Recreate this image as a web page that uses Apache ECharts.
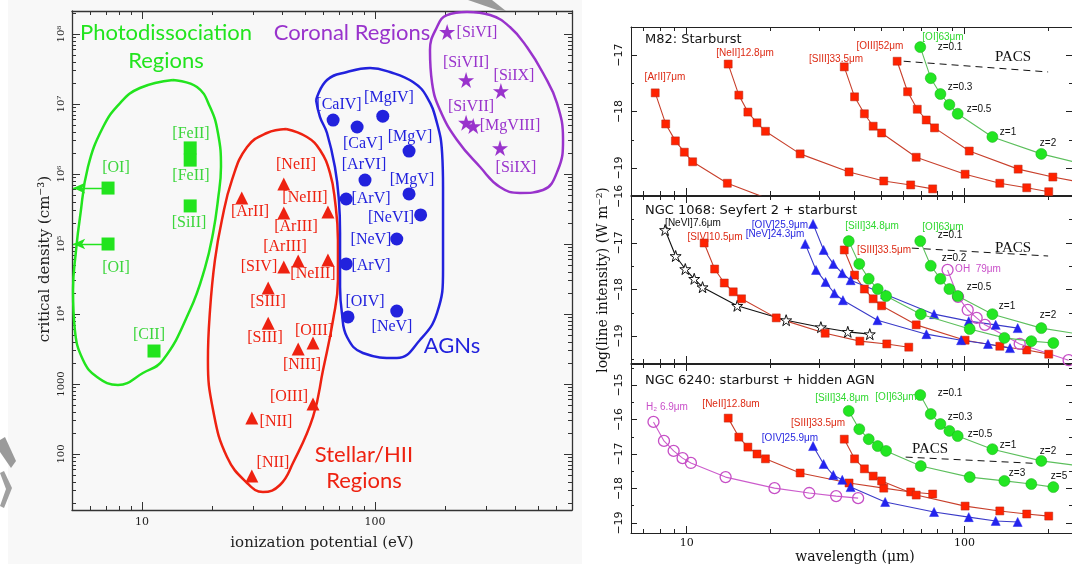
<!DOCTYPE html>
<html>
<head>
<meta charset="utf-8">
<script src="https://cdn.jsdelivr.net/npm/echarts@6/dist/echarts.min.js"></script>
<style>
  html, body { margin: 0; background: #fff; }
  #chart { width: 1072px; height: 564px; }
</style>
</head>
<body>
<div id="chart"></div>
<script>
// ---------- left panel: critical density vs ionization potential ----------
const pdrNames = ['[OI]', '[OI]', '[FeII]', '[FeII]', '[SiII]', '[CII]'];
const pdrIP = [7.15, 7.15, 16.1, 16.1, 16.1, 11.26];
const pdrNcrit = [6.3e5, 1.0e5, 2.36e6, 1.58e6, 3.5e5, 2.96e3];
const pdrUpperLimits = [0, 1];   // points drawn with a leftward arrow

const hiiNames = ['[ArII]', '[NeII]', '[ArIII]', '[NeIII]', '[SIV]', '[ArIII]', '[NeIII]',
  '[SIII]', '[SIII]', '[OIII]', '[NIII]', '[OIII]', '[NII]', '[NII]'];
const hiiIP = [26.8, 40.6, 40.6, 62.8, 40.6, 46.8, 62.8, 34.8, 34.8, 54.2, 46.8, 54.2, 29.6, 29.6];
const hiiNcrit = [4.54e5, 7.2e5, 2.77e5, 2.86e5, 4.7e4, 5.7e4, 5.9e4, 2.35e4, 7.4e3, 3.85e3, 3.16e3, 518, 327, 48.5];

const agnNames = ['[CaIV]', '[CaV]', '[MgIV]', '[MgV]', '[ArVI]', '[MgV]', '[ArV]', '[NeVI]',
  '[NeV]', '[ArV]', '[OIV]', '[NeV]'];
const agnIP = [66.1, 83.8, 108, 140, 90.6, 140, 75.2, 157, 124, 75.2, 76.6, 124];
const agnNcrit = [5.9e6, 4.7e6, 6.7e6, 2.13e6, 8.2e5, 5.2e5, 4.4e5, 2.6e5, 1.18e5, 5.2e4, 9.1e3, 1.1e4];

const corNames = ['[SiVI]', '[SiVII]', '[SiIX]', '[SiVII]', '[MgVIII]', '[SiIX]'];
const corIP = [204, 246, 347, 246, 264, 344];
const corNcrit = [1.07e8, 2.2e7, 1.53e7, 5.4e6, 4.85e6, 2.35e6];

// region outlines, in decades: [log10(eV), log10(cm^-3)]
const pdrLoopLog = [[1.133, 7.343], [1.236, 7.243], [1.292, 6.957], [1.326, 6.586], [1.339, 6.100],
  [1.326, 5.629], [1.305, 5.157], [1.270, 4.657], [1.206, 4.057], [1.090, 3.343], [1.004, 3.157],
  [0.897, 2.986], [0.807, 3.100], [0.747, 3.343], [0.712, 3.771], [0.704, 4.343], [0.717, 4.914],
  [0.734, 5.386], [0.768, 6.100], [0.833, 6.671], [0.906, 7.014], [0.991, 7.229], [1.133, 7.343]];
const hiiLoopLog = [[1.618, 6.643], [1.708, 6.529], [1.764, 6.343], [1.807, 6.014], [1.828, 5.629],
  [1.841, 5.057], [1.841, 4.486], [1.820, 3.914], [1.777, 3.200], [1.734, 2.529], [1.648, 1.871],
  [1.592, 1.557], [1.519, 1.457], [1.451, 1.586], [1.365, 1.957], [1.305, 2.629], [1.283, 3.343],
  [1.292, 4.057], [1.313, 4.771], [1.343, 5.343], [1.386, 5.914], [1.451, 6.386], [1.536, 6.586],
  [1.618, 6.643]];
const agnLoopLog = [[1.747, 7.057], [1.794, 7.343], [1.880, 7.457], [1.979, 7.514], [2.064, 7.457],
  [2.163, 7.314], [2.223, 7.100], [2.266, 6.729], [2.288, 6.300], [2.292, 5.814], [2.292, 5.157],
  [2.292, 4.629], [2.266, 4.014], [2.193, 3.629], [2.094, 3.371], [1.948, 3.443], [1.880, 3.671],
  [1.858, 4.014], [1.850, 4.386], [1.850, 5.157], [1.845, 5.629], [1.828, 6.100], [1.794, 6.586],
  [1.764, 6.814], [1.747, 7.057]];
const corLoopLog = [[2.395, 8.314], [2.309, 8.271], [2.266, 8.100], [2.236, 7.771], [2.245, 7.300],
  [2.279, 6.914], [2.352, 6.486], [2.451, 6.100], [2.536, 5.814], [2.622, 5.729], [2.721, 5.771],
  [2.785, 6.057], [2.807, 6.486], [2.781, 7.014], [2.721, 7.443], [2.652, 7.814], [2.579, 8.100],
  [2.494, 8.271], [2.395, 8.314]];

// ---------- right panels: line intensity vs observed wavelength ----------
const lamArII = [7.7, 8.4, 9.1, 9.8, 10.5, 14, 21];
const lamNeII = [14.1, 15.4, 16.6, 17.9, 19.2, 25.6, 38.4, 51.2, 64, 76.8];
const lamSIII = [36.9, 40.2, 43.6, 46.9, 50.3, 67, 100.5, 134, 167.5, 201];
const lamOIII = [57.2, 62.4, 67.6, 72.8, 78, 104, 156, 208, 260];
const lamOI = [69.3, 75.6, 81.9, 88.2, 94.5, 126, 189, 252];
const lamNeVI = [8.36, 9.12, 9.88, 10.64, 11.4, 15.2, 22.8, 30.4, 38, 45.6];
const lamSIV = [11.55, 12.6, 13.65, 14.7, 15.75, 21, 31.5, 42, 52.5, 63];
const lamOIV = [28.5, 31.1, 33.7, 36.3, 38.9, 51.8, 77.7, 103.6, 129.5, 155.4];
const lamNeV = [26.7, 29.2, 31.6, 34, 36.5, 48.6, 72.9, 97.2, 121.5, 145.8];
const lamSiII = [38.3, 41.8, 45.2, 48.7, 52.2, 69.6, 104.4, 139.2, 174, 208.8];
const lamOH = [86.9, 94.8, 102.7, 110.6, 118.5, 158, 237];
const lamH2 = [7.59, 8.28, 8.97, 9.66, 10.35, 13.8, 20.7, 27.6, 34.5, 41.4];

const m82ArII = [-17.67, -18.22, -18.52, -18.72, -18.89, -19.27, -19.6];
const m82NeII = [-17.16, -17.71, -18.01, -18.20, -18.35, -18.75, -19.07, -19.23, -19.30, -19.37];
const m82SIII = [-17.21, -17.74, -18.04, -18.26, -18.38, -18.81, -19.11, -19.27, -19.35, -19.42];
const m82OIII = [-17.11, -17.65, -17.96, -18.15, -18.29, -18.70, -19.02, -19.16, -19.25];
const m82OI = [-16.86, -17.41, -17.69, -17.88, -18.04, -18.45, -18.75, -18.90];
const m82PacsLam = [60.4, 200];
const m82Pacs = [-17.11, -17.30];

const n1068NeVI = [-16.72, -17.28, -17.56, -17.77, -17.95, -18.35, -18.66, -18.81, -18.91, -18.96];
const n1068SIV = [-17.00, -17.56, -17.86, -18.05, -18.20, -18.61, -18.94, -19.11, -19.17, -19.24];
const n1068OIV = [-16.59, -17.15, -17.45, -17.65, -17.80, -18.10, -18.53, -18.68, -18.76, -18.83];
const n1068NeV = [-17.02, -17.58, -17.84, -18.08, -18.23, -18.66, -18.96, -19.09, -19.17, -19.26];
const n1068SiII = [-16.96, -17.45, -17.77, -17.99, -18.14, -18.53, -18.85, -19.04, -19.11, -19.15];
const n1068SIII = [-17.15, -17.69, -17.99, -18.20, -18.35, -18.76, -19.09, -19.22, -19.30, -19.39];
const n1068OI = [-16.96, -17.49, -17.77, -17.99, -18.14, -18.53, -18.83, -18.95];
const n1068OH = [-17.58, -18.16, -18.44, -18.61, -18.76, -19.17, -19.52];
const n1068PacsLam = [64.6, 200];
const n1068Pacs = [-17.11, -17.28];

const n6240H2 = [-16.07, -16.62, -16.91, -17.12, -17.26, -17.67, -17.99, -18.13, -18.22, -18.28];
const n6240NeII = [-15.96, -16.51, -16.80, -17.00, -17.14, -17.55, -17.84, -17.99, -18.10, -18.16];
const n6240SIII = [-16.57, -17.14, -17.43, -17.64, -17.78, -18.19, -18.51, -18.65, -18.74, -18.80];
const n6240OIV = [-16.77, -17.29, -17.61, -17.75, -17.96, -18.39, -18.68, -18.83, -18.94, -18.97];
const n6240SiII = [-15.75, -16.28, -16.57, -16.77, -16.91, -17.35, -17.67, -17.78, -17.87, -17.96];
const n6240OI = [-15.29, -15.84, -16.13, -16.33, -16.48, -16.86, -17.20, -17.33];
const n6240PacsLam = [61.4, 200];
const n6240Pacs = [-17.09, -17.29];

// ---------- helpers ----------
const LN = Math.log10;
const SUP = {4: '⁴', 5: '⁵', 6: '⁶', 7: '⁷', 8: '⁸'};
const STAR = 'path://M0,-10L2.245,-3.09L9.51,-3.09L3.633,1.18L5.88,8.09L0,3.82L-5.88,8.09L-3.633,1.18L-9.51,-3.09L-2.245,-3.09Z';

const GREEN = '#22e41e', RED = '#ee2211', BLUE = '#2222dd', PURPLE = '#9933cc';
const GREEN_TXT = '#3cd63c';

function minorLog(lo, hi) {
  const out = [];
  for (let n = Math.floor(lo); n <= Math.ceil(hi); n++) {
    for (let k = 2; k <= 9; k++) {
      const v = n + LN(k);
      if (v > lo && v < hi) out.push(v);
    }
  }
  return out;
}
function steps(lo, hi, step, offset) {
  const out = [];
  for (let v = Math.ceil((lo - offset) / step) * step + offset; v <= hi + 1e-9; v += step) out.push(+v.toFixed(4));
  return out;
}

const grids = [], xAxes = [], yAxes = [];
// four axes per direction: main, main-minor, mirror, mirror-minor
function axes(kind, gi, c) {
  const sides = kind === 'x' ? ['bottom', 'top'] : ['left', 'right'];
  const list = [];
  sides.forEach((side, s) => {
    [c.major, c.minor].forEach((vals, m) => {
      list.push({
        type: 'value', gridIndex: gi, position: side, min: c.min, max: c.max,
        axisLine: {show: m === 0, onZero: false, lineStyle: {color: c.lineColor || '#222', width: c.lineWidth || 1}},
        splitLine: {show: false},
        axisTick: {show: true, inside: true, length: m === 0 ? c.majLen : c.minLen,
          customValues: vals, lineStyle: {color: c.lineColor || '#222', width: 1}},
        axisLabel: (s === 0 && m === 0 && c.label)
          ? Object.assign({customValues: c.labelValues || c.major}, c.label)
          : {show: false}
      });
    });
  });
  return list;
}
function addGrid(g, xc, yc) {
  const gi = grids.length;
  grids.push(g);
  const xi = xAxes.length; xAxes.push(...axes('x', gi, xc));
  const yi = yAxes.length; yAxes.push(...axes('y', gi, yc));
  return {xi, yi};
}

// left panel grid
const LX = [0.6996, 2.8455], LY = [1.2, 8.329];
const left = addGrid({left: 72, top: 11, width: 500, height: 499},
  {min: LX[0], max: LX[1], major: [1, 2], minor: minorLog(LX[0], LX[1]), majLen: 8, minLen: 4,
   lineColor: '#333', lineWidth: 1.3,
   label: {margin: 7, color: '#222', fontSize: 11, fontFamily: 'DejaVu Serif',
     formatter: v => String(Math.round(Math.pow(10, v)))}},
  {min: LY[0], max: LY[1], major: steps(LY[0], LY[1], 1, 0), minor: minorLog(LY[0], LY[1]), majLen: 8, minLen: 4,
   lineColor: '#333', lineWidth: 1.3, labelValues: [2, 3, 4, 5, 6, 7, 8],
   label: {margin: 6, color: '#222', fontSize: 10, fontFamily: 'DejaVu Serif', rotate: 90,
     formatter: v => { const p = Math.round(v); return p === 2 ? '100' : p === 3 ? '1000' : '10' + SUP[p]; }}});

// right panels
const RX = [0.7993, 2.387];
function rightPanel(top, height, ymin, ymax, showX) {
  return addGrid({left: 631, top, width: 443, height},
    {min: RX[0], max: RX[1], major: [1, 2], minor: minorLog(RX[0], RX[1]), majLen: 7, minLen: 4,
     label: showX ? {margin: 5, color: '#111', fontSize: 11, fontFamily: 'DejaVu Serif',
       formatter: v => String(Math.round(Math.pow(10, v)))} : null},
    {min: ymin, max: ymax, major: steps(ymin, ymax, 1, 0), minor: steps(ymin, ymax, 1, 0.5), majLen: 6, minLen: 3,
     label: {margin: 6, color: '#111', fontSize: 11, fontFamily: 'DejaVu Sans', rotate: 90,
       formatter: v => '\u2212' + Math.abs(Math.round(v))}});
}
const p1 = rightPanel(27, 168, -19.478, -16.504, false);
const p2 = rightPanel(196, 167, -19.58, -15.99, false);
const p3 = rightPanel(364, 169, -19.29, -14.391, true);

// ---------- series ----------
const series = [];
function loop(data, color) {
  series.push({type: 'line', xAxisIndex: left.xi, yAxisIndex: left.yi, data, smooth: 0.45,
    showSymbol: false, symbol: 'none', silent: true, z: 1,
    lineStyle: {color, width: 2.5}});
}
loop(pdrLoopLog, GREEN);
loop(hiiLoopLog, RED);
loop(agnLoopLog, BLUE);
loop(corLoopLog, PURPLE);

function scatter(ip, nc, symbol, size, color, extra) {
  series.push(Object.assign({type: 'scatter', xAxisIndex: left.xi, yAxisIndex: left.yi,
    data: ip.map((v, i) => [LN(v), LN(nc[i])]), symbol, symbolSize: size, z: 5,
    itemStyle: {color, opacity: 1}}, extra || {}));
}
scatter(pdrIP, pdrNcrit, 'rect', 13, GREEN, {
  markLine: {silent: true, symbol: ['none', 'arrow'], symbolSize: [8, 12], animation: false,
    label: {show: false}, lineStyle: {color: GREEN, width: 1.3, type: 'solid'},
    data: pdrUpperLimits.map(i => [{coord: [LN(pdrIP[i]), LN(pdrNcrit[i])]}, {coord: [LX[0] + 0.005, LN(pdrNcrit[i])]}])}
});
scatter(hiiIP, hiiNcrit, 'triangle', 13, RED);
scatter(agnIP, agnNcrit, 'circle', 13, BLUE);
scatter(corIP, corNcrit, STAR, 16, PURPLE);

const ST = {
  red: {symbol: 'rect', size: 8, fill: '#ff2200', border: '#b02a18', bw: 0.5, line: '#c8402c'},
  green: {symbol: 'circle', size: 11, fill: '#22e622', border: '#18a818', bw: 0.5, line: '#5cbf5c'},
  blue: {symbol: 'triangle', size: 9, fill: '#2424ee', border: '#2424ee', bw: 0.5, line: '#3a3ac8'},
  magenta: {symbol: 'circle', size: 11, fill: 'rgba(255,255,255,0)', border: '#c64fc6', bw: 1.3, line: '#cc5ccc'},
  black: {symbol: STAR, size: 11, fill: '#fff', border: '#111', bw: 1, line: '#111'}
};
function curve(p, lam, vals, st) {
  const s = ST[st];
  series.push({type: 'line', xAxisIndex: p.xi, yAxisIndex: p.yi, clip: true, z: st === 'green' ? 4 : 3,
    data: lam.slice(0, vals.length).map((l, i) => [LN(l), vals[i]]),
    symbol: s.symbol, symbolSize: s.size, showAllSymbol: true,
    itemStyle: {color: s.fill, borderColor: s.border, borderWidth: s.bw},
    lineStyle: {color: s.line, width: 1.1}});
}
function pacs(p, lam, vals) {
  series.push({type: 'line', xAxisIndex: p.xi, yAxisIndex: p.yi, symbol: 'none', silent: true, z: 2,
    data: lam.map((l, i) => [LN(l), vals[i]]), lineStyle: {color: '#111', width: 1, type: [7, 5]}});
}
curve(p1, lamArII, m82ArII, 'red');
curve(p1, lamNeII, m82NeII, 'red');
curve(p1, lamSIII, m82SIII, 'red');
curve(p1, lamOIII, m82OIII, 'red');
curve(p1, lamOI, m82OI, 'green');
pacs(p1, m82PacsLam, m82Pacs);

curve(p2, lamNeVI, n1068NeVI, 'black');
curve(p2, lamSIV, n1068SIV, 'red');
curve(p2, lamSIII, n1068SIII, 'red');
curve(p2, lamOIV, n1068OIV, 'blue');
curve(p2, lamNeV, n1068NeV, 'blue');
curve(p2, lamSiII, n1068SiII, 'green');
curve(p2, lamOI, n1068OI, 'green');
curve(p2, lamOH, n1068OH, 'magenta');
pacs(p2, n1068PacsLam, n1068Pacs);

curve(p3, lamH2, n6240H2, 'magenta');
curve(p3, lamNeII, n6240NeII, 'red');
curve(p3, lamSIII, n6240SIII, 'red');
curve(p3, lamOIV, n6240OIV, 'blue');
curve(p3, lamSiII, n6240SiII, 'green');
curve(p3, lamOI, n6240OI, 'green');
pacs(p3, n6240PacsLam, n6240Pacs);

// ---------- texts ----------
const SERIF16 = '16px "Liberation Serif"';
const SANS10 = '10px "Liberation Sans"';
function tx(text, x, y, fill, font, extra) {
  const el = {type: 'text', x, y, z: 60, silent: true,
    style: {text, fill, font, textAlign: 'center', textVerticalAlign: 'middle'}};
  if (extra && extra.rotation) el.rotation = extra.rotation;
  if (extra && extra.align) el.style.textAlign = extra.align;
  return el;
}
const g = [];
// backdrop and scan artefacts
g.push({type: 'rect', z: -10, silent: true, shape: {x: 8, y: 0, width: 574, height: 564}, style: {fill: '#f8f8f8'}});
g.push({type: 'polygon', z: 70, silent: true, shape: {points: [[0, 440], [5, 437], [16, 461], [11, 468], [0, 452]]}, style: {fill: '#9a9a9a'}});
g.push({type: 'polygon', z: 70, silent: true, shape: {points: [[0, 473], [4, 471], [12, 488], [4, 508], [0, 506], [6, 489]]}, style: {fill: '#a0a0a0'}});
g.push({type: 'polygon', z: 70, silent: true, shape: {points: [[468, 0], [492, 0], [506, 11], [497, 10]]}, style: {fill: '#9a9a9a'}});

// left panel region names
const LATO = '22px Lato';
g.push(tx('Photodissociation', 166, 33, GREEN, LATO), tx('Regions', 166, 61, GREEN, LATO));
g.push(tx('Coronal Regions', 352, 33, PURPLE, LATO));
g.push(tx('AGNs', 452, 346, BLUE, LATO));
g.push(tx('Stellar/HII', 364, 455, RED, LATO), tx('Regions', 364, 481, RED, LATO));

// point labels [text, x, y]
const pdrLab = [['[OI]', 116, 168], ['[OI]', 116, 268], ['[FeII]', 191, 134], ['[FeII]', 191, 176],
  ['[SiII]', 189, 223], ['[CII]', 149, 335]];
const hiiLab = [['[NeII]', 296, 165], ['[ArII]', 250, 212], ['[NeIII]', 305, 198], ['[ArIII]', 296, 227],
  ['[ArIII]', 285, 247], ['[SIV]', 259, 267], ['[NeIII]', 313, 274], ['[SIII]', 268, 302],
  ['[SIII]', 265, 338], ['[OIII]', 314, 331], ['[NIII]', 302, 365], ['[OIII]', 289, 397],
  ['[NII]', 276, 422], ['[NII]', 273, 463]];
const agnLab = [['[CaIV]', 339, 105], ['[MgIV]', 389, 98], ['[CaV]', 363, 144], ['[MgV]', 410, 137],
  ['[ArVI]', 364, 165], ['[MgV]', 412, 180], ['[ArV]', 371, 199], ['[NeVI]', 391, 218],
  ['[NeV]', 371, 240], ['[ArV]', 371, 266], ['[OIV]', 365, 302], ['[NeV]', 392, 327]];
const corLab = [['[SiVI]', 477, 33], ['[SiVII]', 466, 63], ['[SiIX]', 514, 76], ['[SiVII]', 471, 107],
  ['[MgVIII]', 510, 126], ['[SiIX]', 516, 168]];
pdrLab.forEach(l => g.push(tx(l[0], l[1], l[2], GREEN_TXT, SERIF16)));
hiiLab.forEach(l => g.push(tx(l[0], l[1], l[2], RED, SERIF16)));
agnLab.forEach(l => g.push(tx(l[0], l[1], l[2], BLUE, SERIF16)));
corLab.forEach(l => g.push(tx(l[0], l[1], l[2], PURPLE, SERIF16)));

// left axis titles
g.push(tx('critical density (cm\u207B\u00B3)', 45, 259, '#222', '15px "DejaVu Serif"', {rotation: Math.PI / 2}));
g.push(tx('ionization potential (eV)', 322, 543, '#222', '15px "DejaVu Serif"'));

// right panels
const TITLE = '13px "DejaVu Sans"';
g.push(tx('M82: Starburst', 645, 40, '#111', TITLE, {align: 'left'}));
g.push(tx('NGC 1068: Seyfert 2 + starburst', 645, 211, '#111', TITLE, {align: 'left'}));
g.push(tx('NGC 6240: starburst + hidden AGN', 645, 381, '#111', TITLE, {align: 'left'}));

const C = {red: '#dd2a14', green: '#2fd82f', blue: '#2828e0', magenta: '#c94fc9', black: '#111'};
const rightLab = [
  ['[ArII]7\u03BCm', 665, 77, 'red'], ['[NeII]12.8\u03BCm', 745, 53, 'red'], ['[SIII]33.5\u03BCm', 836, 59, 'red'],
  ['[OIII]52\u03BCm', 880, 46, 'red'], ['[OI]63\u03BCm', 943, 37, 'green'],
  ['z=0.1', 950, 47, 'black'], ['z=0.3', 960, 87, 'black'], ['z=0.5', 979, 109, 'black'],
  ['z=1', 1008, 132, 'black'], ['z=2', 1048, 143, 'black'],

  ['[NeVI]7.6\u03BCm', 693, 223, 'black'], ['[SIV]10.5\u03BCm', 715, 237, 'red'],
  ['[OIV]25.9\u03BCm', 780, 225, 'blue'], ['[NeV]24.3\u03BCm', 775, 234, 'blue'],
  ['[SiII]34.8\u03BCm', 872, 226, 'green'], ['[SIII]33.5\u03BCm', 884, 250, 'red'],
  ['[OI]63\u03BCm', 943, 227, 'green'], ['z=0.1', 950, 235, 'black'], ['z=0.2', 954, 258, 'black'],
  ['OH  79\u03BCm', 978, 269, 'magenta'], ['z=0.5', 979, 287, 'black'], ['z=1', 1007, 306, 'black'],
  ['z=2', 1048, 315, 'black'],

  ['H\u2082 6.9\u03BCm', 667, 407, 'magenta'], ['[NeII]12.8um', 731, 404, 'red'],
  ['[SIII]33.5\u03BCm', 818, 423, 'red'], ['[OIV]25.9\u03BCm', 790, 438, 'blue'],
  ['[SiII]34.8\u03BCm', 842, 398, 'green'], ['[OI]63\u03BCm', 896, 397, 'green'],
  ['z=0.1', 950, 393, 'black'], ['z=0.3', 960, 417, 'black'], ['z=0.5', 980, 434, 'black'],
  ['z=1', 1008, 445, 'black'], ['z=2', 1048, 451, 'black'], ['z=3', 1017, 473, 'black'],
  ['z=5', 1059, 476, 'black']
];
rightLab.forEach(l => g.push(tx(l[0], l[1], l[2], C[l[3]], SANS10)));
const PACS = '15px "Liberation Serif"';
g.push(tx('PACS', 1013, 57, '#111', PACS), tx('PACS', 1013, 248, '#111', PACS), tx('PACS', 930, 449, '#111', PACS));

g.push(tx('log(line intensity) (W m\u207B\u00B2)', 603, 280, '#111', '14px "DejaVu Serif"', {rotation: Math.PI / 2}));
g.push(tx('wavelength (\u03BCm)', 855, 557, '#111', '14px "DejaVu Serif"'));

const chart = echarts.init(document.getElementById('chart'));
chart.setOption({
  animation: false,
  backgroundColor: '#ffffff',
  grid: grids,
  xAxis: xAxes,
  yAxis: yAxes,
  series,
  graphic: {elements: g}
});
</script>
</body>
</html>
